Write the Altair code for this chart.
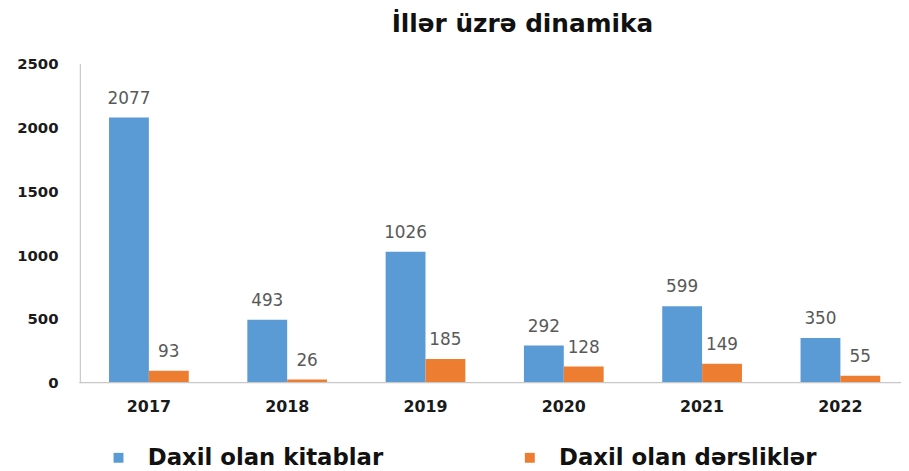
import altair as alt
import pandas as pd

years = ["2017", "2018", "2019", "2020", "2021", "2022"]
kitablar = [2077, 493, 1026, 292, 599, 350]
derslikler = [93, 26, 185, 128, 149, 55]
series_names = ["Daxil olan kitablar", "Daxil olan dərsliklər"]
series_colors = ["#5B9BD5", "#ED7D31"]
y_ticks = [0, 500, 1000, 1500, 2000, 2500]

rows = []
for i, yr in enumerate(years):
    rows.append({"il": yr, "seriya": series_names[0], "say": kitablar[i]})
    rows.append({"il": yr, "seriya": series_names[1], "say": derslikler[i]})
df = pd.DataFrame(rows)
base_df = pd.DataFrame({"say": [0]})

FONT = "DejaVu Sans"
W = 820

x_enc = alt.X("il:N", sort=years, title=None,
              scale=alt.Scale(paddingInner=0.4236, paddingOuter=0.15, round=False),
              axis=alt.Axis(labelAngle=0, labelFont=FONT, labelFontSize=16, labelFontWeight="bold",
                            labelColor="#1a1a1a", labelPadding=16, ticks=False, domain=False))
xo_enc = alt.XOffset("seriya:N", sort=series_names,
                     scale=alt.Scale(domain=series_names, paddingInner=0, paddingOuter=0))
y_enc = alt.Y("say:Q", title=None,
              scale=alt.Scale(domain=[0, 2500], nice=False),
              axis=alt.Axis(values=y_ticks, format="d", grid=False, ticks=False, labelFont=FONT,
                            labelFontSize=15, labelFontWeight="bold", labelColor="#1a1a1a",
                            labelPadding=22, offset=8.5, domainColor="#c8c8c8", domainWidth=1.2))

baseline = alt.Chart(base_df).mark_rule(color="#c8c8c8", strokeWidth=1.2).encode(
    x=alt.value(-9), x2=alt.value(W), y=alt.Y("say:Q")
)

bars = alt.Chart(df).mark_bar().encode(
    x=x_enc,
    xOffset=xo_enc,
    y=y_enc,
    color=alt.Color("seriya:N", sort=series_names,
                    scale=alt.Scale(domain=series_names, range=series_colors),
                    legend=alt.Legend(title=None, orient="none", legendX=19, legendY=386,
                                      direction="horizontal", columns=2, columnPadding=136,
                                      symbolType="square", symbolSize=100, symbolStrokeWidth=0,
                                      labelFont=FONT, labelFontSize=23, labelFontWeight="bold",
                                      labelColor="#111111", labelOffset=18, labelLimit=400))
)

labels = alt.Chart(df).mark_text(baseline="alphabetic", dy=-14, font=FONT, fontSize=17,
                                 color="#595959").encode(
    x=alt.X("il:N", sort=years),
    xOffset=alt.XOffset("seriya:N", sort=series_names),
    y=alt.Y("say:Q"),
    text=alt.Text("say:Q")
)

chart = alt.layer(bars, baseline, labels).properties(
    width=W,
    height=322,
    title=alt.TitleParams("İllər üzrə dinamika", font=FONT, fontSize=25, fontWeight="bold",
                          color="#111111", anchor="middle", dx=28, offset=20),
    autosize=alt.AutoSizeParams(type="none"),
    padding={"left": 81, "top": 54, "right": 0, "bottom": 87},
).configure_view(stroke=None)

chart.save("out.html", embed_options={"renderer": "svg", "actions": False})
